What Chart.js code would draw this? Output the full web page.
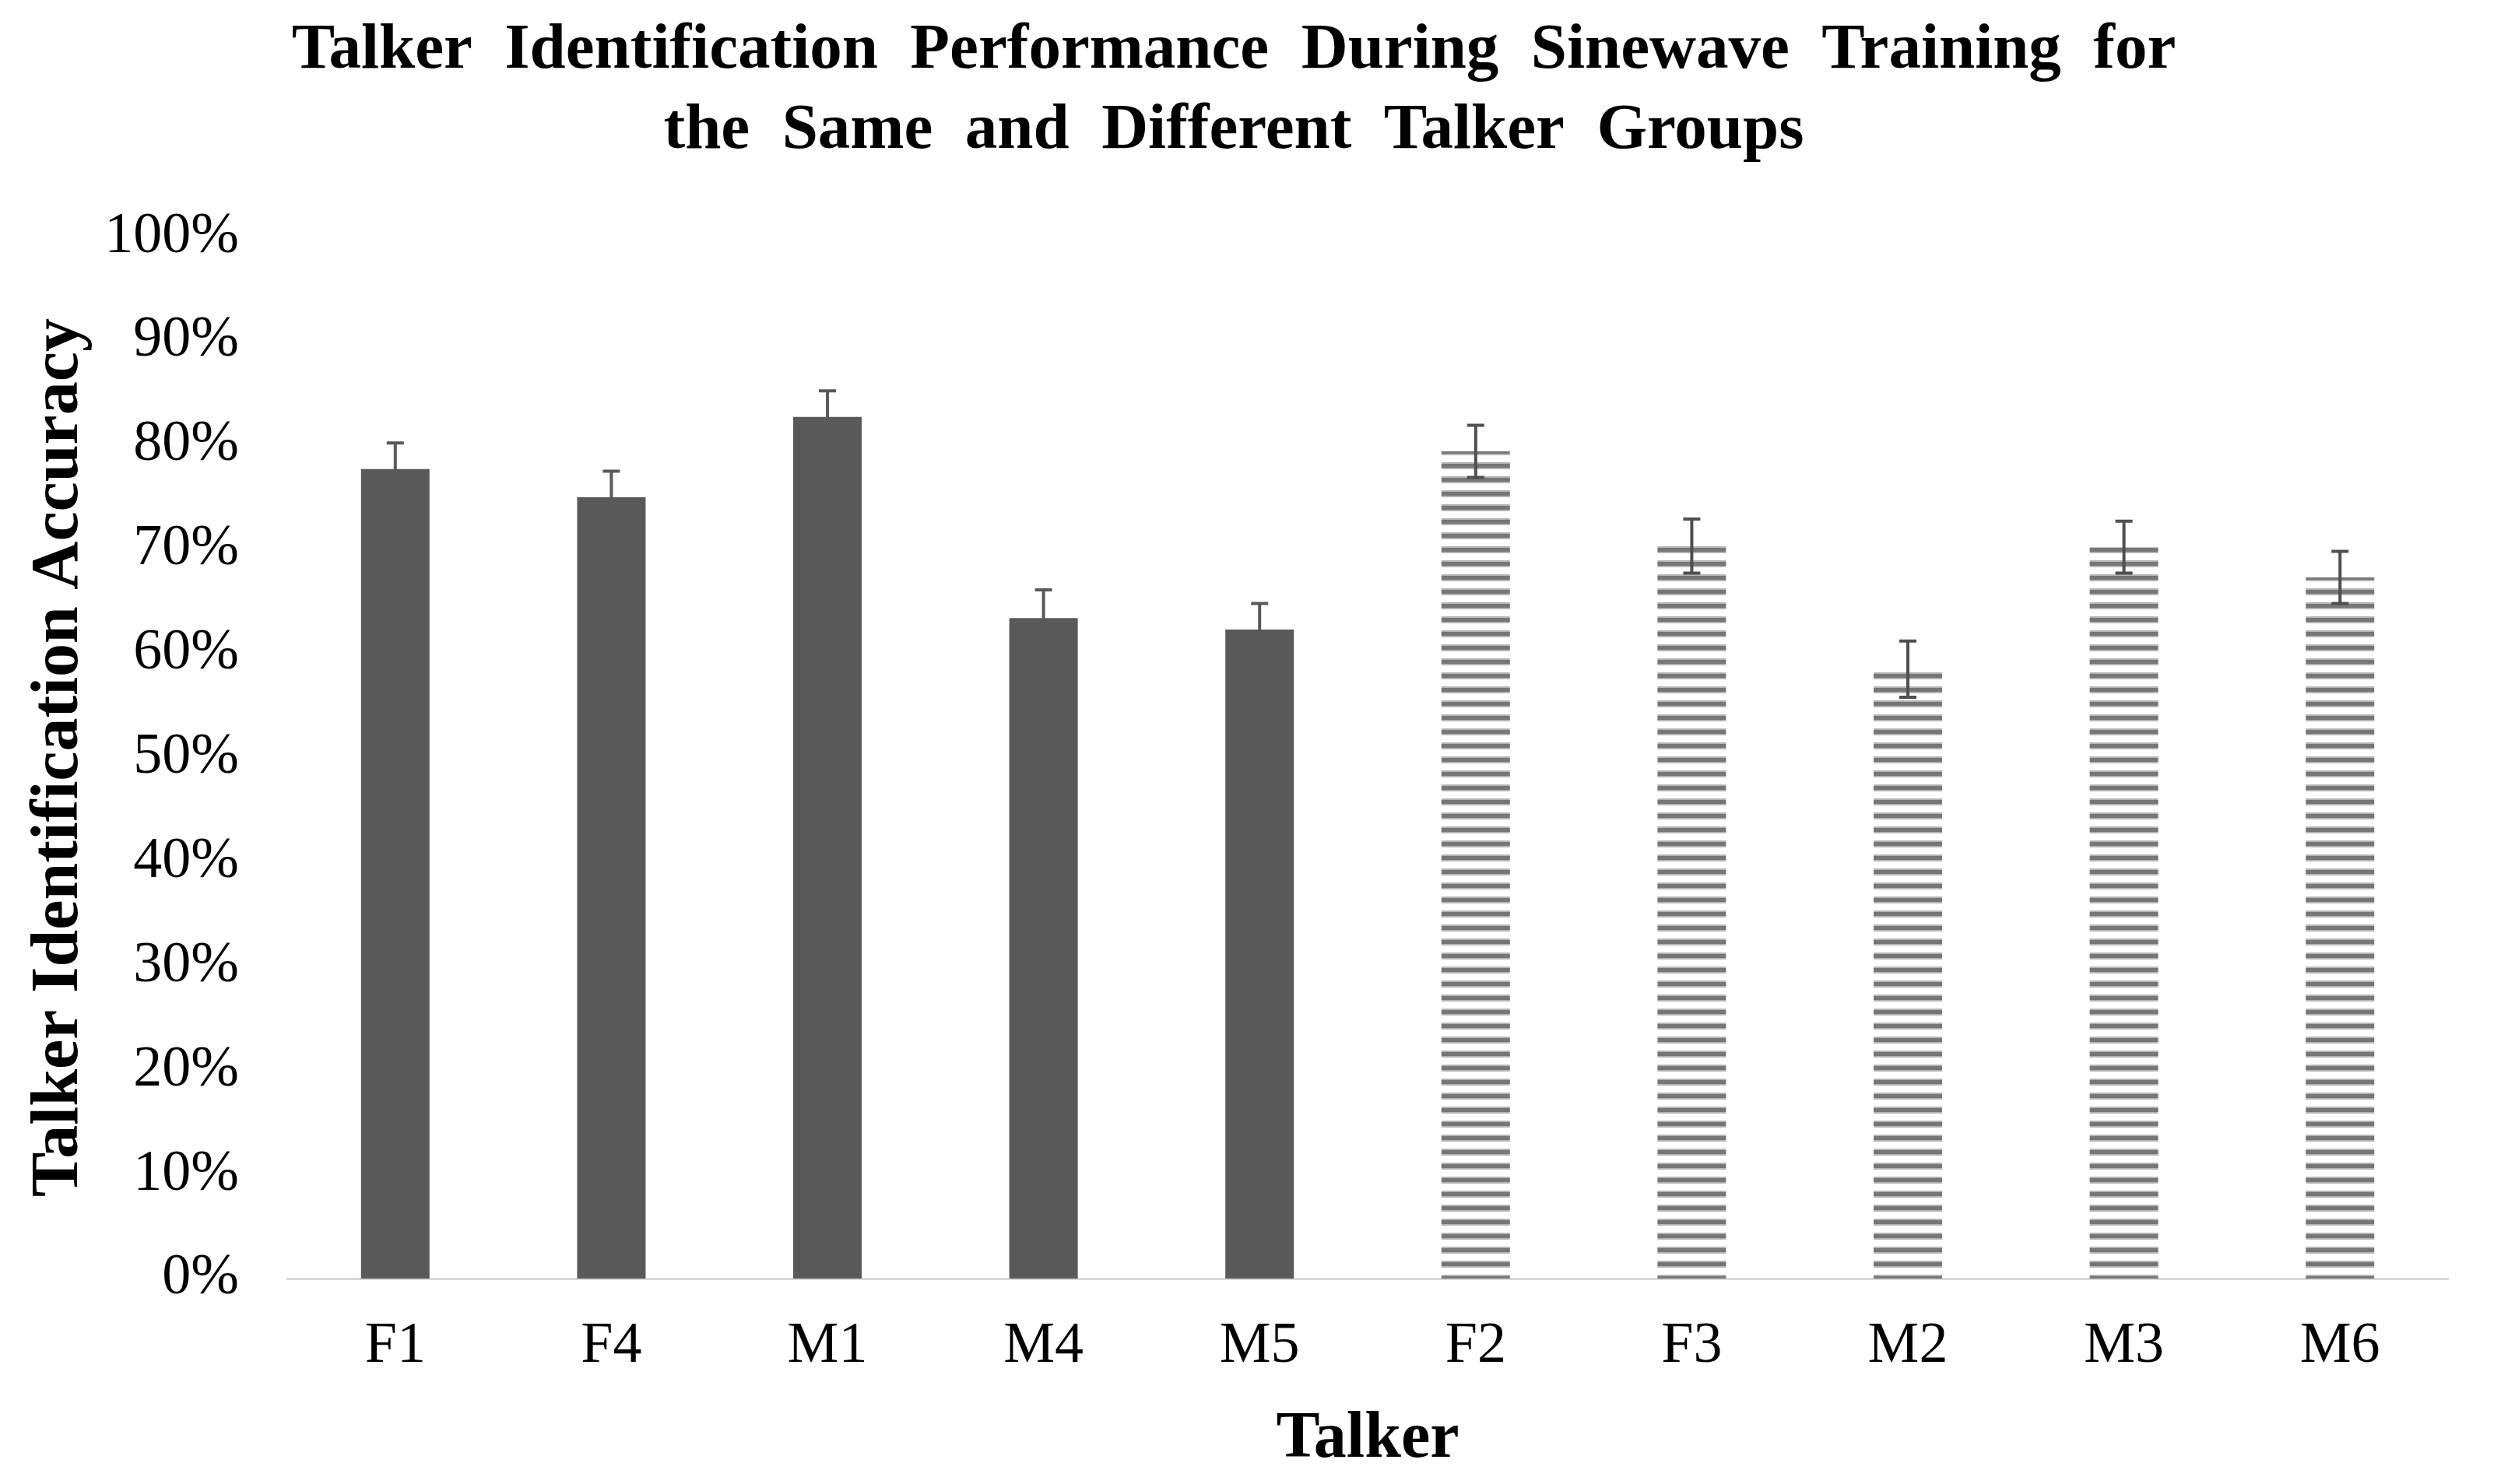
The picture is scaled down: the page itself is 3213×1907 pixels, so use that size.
<!DOCTYPE html>
<html>
<head>
<meta charset="utf-8">
<script src="https://cdn.jsdelivr.net/npm/chart.js@4"></script>
<style>
  html, body { margin: 0; padding: 0; background: #ffffff; }
  #wrap { width: 3213px; height: 1907px; }
</style>
</head>
<body>
<div id="wrap"><canvas id="c" width="3213" height="1907"></canvas></div>
<script>
// ---- data ----
const titleLines = ['Talker  Identification  Performance  During  Sinewave  Training  for', 'the  Same  and  Different  Talker  Groups'];
const categories = ['F1', 'F4', 'M1', 'M4', 'M5', 'F2', 'F3', 'M2', 'M3', 'M6'];
const accuracy = [77.7, 75.0, 82.7, 63.4, 62.3, 79.4, 70.3, 58.5, 70.2, 67.3];
const errorSE = [2.5, 2.5, 2.5, 2.7, 2.5, 2.5, 2.6, 2.7, 2.5, 2.5];
const groups = ['same', 'same', 'same', 'same', 'same', 'different', 'different', 'different', 'different', 'different'];
const yTickValues = [0, 10, 20, 30, 40, 50, 60, 70, 80, 90, 100];
const xTitle = 'Talker';
const yTitle = 'Talker Identification Accuracy';

// ---- styles ----
const FONT = "'Liberation Serif', 'Times New Roman', serif";
const solidColor = '#595959';

function makeStripePattern() {
  const p = document.createElement('canvas');
  p.width = 16; p.height = 18;
  const g = p.getContext('2d');
  g.fillStyle = '#ffffff';
  g.fillRect(0, 0, 16, 18);
  g.fillStyle = '#b4b4b4';
  g.fillRect(0, 0, 16, 9);
  g.fillStyle = '#767676';
  g.fillRect(0, 2, 16, 5);
  return g.createPattern(p, 'repeat');
}
const ctx = document.getElementById('c').getContext('2d');
const stripe = makeStripePattern();
const barColors = groups.map(g => g === 'same' ? solidColor : stripe);

const errorBarPlugin = {
  id: 'errorBars',
  afterDatasetsDraw(chart) {
    const meta = chart.getDatasetMeta(0);
    const yScale = chart.scales.y;
    const c = chart.ctx;
    c.save();
    c.lineWidth = 4;
    meta.data.forEach((bar, i) => {
      const x = bar.x;
      const yHi = yScale.getPixelForValue(accuracy[i] + errorSE[i]);
      const yLo = yScale.getPixelForValue(accuracy[i] - errorSE[i]);
      c.strokeStyle = groups[i] === 'same' ? solidColor : '#4f4f4f';
      c.beginPath();
      c.moveTo(x, yHi); c.lineTo(x, yLo);
      c.moveTo(x - 11, yHi); c.lineTo(x + 11, yHi);
      c.moveTo(x - 11, yLo); c.lineTo(x + 11, yLo);
      c.stroke();
    });
    c.restore();
  }
};

new Chart(ctx, {
  type: 'bar',
  data: {
    labels: categories,
    datasets: [{
      data: accuracy,
      backgroundColor: barColors,
      borderWidth: 0,
      barPercentage: 0.317,
      categoryPercentage: 1.0
    }]
  },
  options: {
    responsive: false,
    animation: false,
    devicePixelRatio: 1,
    layout: { padding: { left: 25, right: 68, top: 0, bottom: 0 } },
    plugins: {
      legend: { display: false },
      tooltip: { enabled: false },
      title: {
        display: true,
        text: titleLines,
        color: '#000000',
        font: { family: FONT, size: 83, weight: 'bold', lineHeight: 1.23 },
        padding: { top: 15, bottom: 85 }
      }
    },
    scales: {
      x: {
        afterFit(scale) { scale.height = 264; },
        grid: { display: false, drawTicks: false },
        border: { display: true, color: '#d9d9d9', width: 3 },
        ticks: { color: '#000000', font: { family: FONT, size: 74, lineHeight: 1.0 }, padding: 51 },
        title: { display: true, text: xTitle, color: '#000000', font: { family: FONT, size: 84, weight: 'bold', lineHeight: 1.1 }, padding: { top: 0, bottom: 11 } }
      },
      y: {
        min: 0, max: 100,
        afterBuildTicks(scale) { scale.ticks = yTickValues.map(v => ({ value: v })); },
        afterFit(scale) { scale.width = 344; },
        grid: { display: false, drawTicks: false },
        border: { display: false },
        ticks: { color: '#000000', font: { family: FONT, size: 74 }, padding: 62, callback: v => v + '%' },
        title: { display: true, text: yTitle, color: '#000000', font: { family: FONT, size: 86, weight: 'bold', lineHeight: 1.2 }, padding: { top: 0, bottom: 0 } }
      }
    }
  },
  plugins: [errorBarPlugin]
});
</script>
</body>
</html>
